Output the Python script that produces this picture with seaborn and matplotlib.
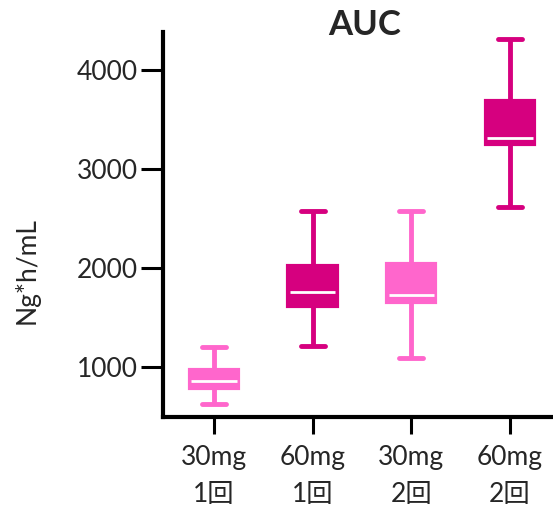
import matplotlib
matplotlib.use("Agg")
import matplotlib.pyplot as plt
import seaborn as sns
import pandas as pd

categories = ["30mg\n1回", "60mg\n1回", "30mg\n2回", "60mg\n2回"]
# five-number summaries: min, q1, median, q3, max
g1 = [634, 795, 859, 970, 1204]
g2 = [1211, 1614, 1758, 2024, 2574]
g3 = [1097, 1655, 1728, 2037, 2574]
g4 = [2614, 3252, 3316, 3686, 4310]
colors = ["#FF66CC", "#D6007F", "#FF66CC", "#D6007F"]

rows = []
for cat, vals in zip(categories, [g1, g2, g3, g4]):
    for v in vals:
        rows.append({"group": cat, "value": v})
df = pd.DataFrame(rows)

sns.set_style("white")
plt.rcParams["font.family"] = ["Lato", "Noto Sans CJK JP", "DejaVu Sans"]

fig = plt.figure(figsize=(5.53, 5.09), dpi=100)
ax = fig.add_axes([0.295, 0.181, 0.72, 0.756])

sns.boxplot(data=df, x="group", y="value", hue="group", palette=colors,
            order=categories, hue_order=categories, legend=False,
            whis=(0, 100), width=0.49, linewidth=3, ax=ax,
            medianprops=dict(color="white", linewidth=2),
            capprops=dict(linewidth=3.5), whiskerprops=dict(linewidth=3.5))

for i, c in enumerate(colors):
    patch = ax.patches[i]
    patch.set_edgecolor(c)
    patch.set_facecolor(c)
lines = ax.lines
per = len(lines) // 4
for i, c in enumerate(colors):
    for ln in lines[i * per:(i + 1) * per]:
        ln.set_color(c)
for i in range(4):
    med = lines[i * per + 4]
    med.set_color("white")
    xd = med.get_xdata()
    cx = (xd[0] + xd[1]) / 2
    hw = (xd[1] - xd[0]) / 2 * 0.94
    med.set_xdata([cx - hw, cx + hw])

ax.set_xlim(-0.515, 3.52)
ax.set_ylim(500, 4380)
ax.set_yticks([1000, 2000, 3000, 4000])
ax.set_xlabel("")
ax.set_ylabel("Ng*h/mL", fontsize=19)
ax.yaxis.set_label_coords(-0.31, 0.38)
ax.set_title("AUC", fontsize=25, fontweight="bold", pad=-2, x=0.505)

for s in ["top", "right"]:
    ax.spines[s].set_visible(False)
for s in ["left", "bottom"]:
    ax.spines[s].set_linewidth(3)
    ax.spines[s].set_color("black")

ax.tick_params(axis="y", length=16, width=2.2, labelsize=19, pad=2, left=True, color="black")
ax.tick_params(axis="x", length=12, width=2.2, labelsize=19, pad=8, bottom=True, color="black")
for lab in ax.get_xticklabels():
    lab.set_linespacing(1.6)

fig.savefig("out.png", dpi=100)
